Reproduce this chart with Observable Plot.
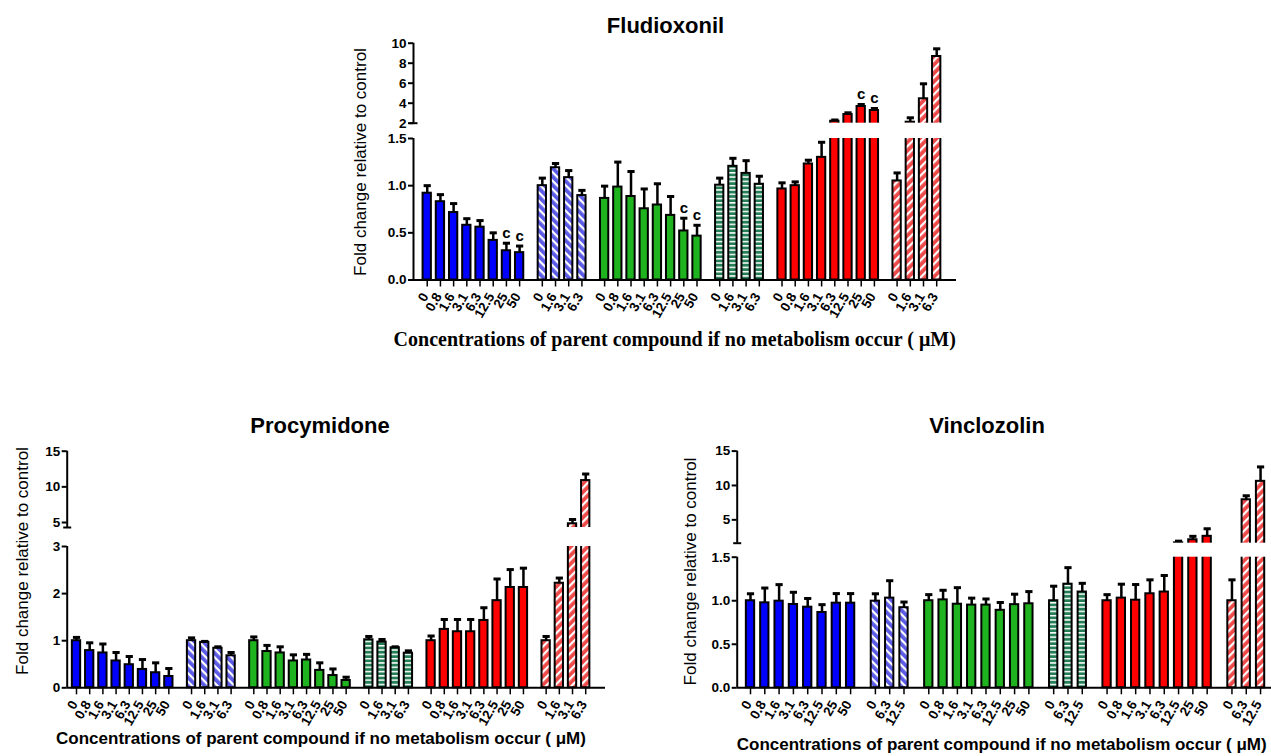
<!DOCTYPE html>
<html><head><meta charset="utf-8">
<script src="https://cdn.jsdelivr.net/npm/d3@7"></script>
<script src="https://cdn.jsdelivr.net/npm/@observablehq/plot@0.6"></script>
<style>
body{margin:0;background:#fff;}
#wrap{position:relative;width:1271px;height:756px;overflow:hidden;background:#fff;}
#wrap svg{position:absolute;left:0;top:0;}
</style></head><body><div id="wrap"></div>
<script>
// ---------- data ----------
const titles = ["Fludioxonil", "Procymidone", "Vinclozolin"];
const yLabel = "Fold change relative to control";
const xLabel = "Concentrations of parent compound if no metabolism occur ( \u03bcM)";

const concFull = ["0", "0.8", "1.6", "3.1", "6.3", "12.5", "25", "50"];
const concShort = ["0", "1.6", "3.1", "6.3"];
const concVinc = ["0", "6.3", "12.5"];

const fludConc = [concFull, concShort, concFull, concShort, concFull, concShort];
const fludMean = [
  [0.92, 0.83, 0.715, 0.58, 0.56, 0.42, 0.31, 0.29],
  [1.0, 1.19, 1.085, 0.895],
  [0.865, 0.985, 0.885, 0.755, 0.795, 0.685, 0.52, 0.465],
  [1.005, 1.205, 1.13, 1.015],
  [0.965, 1.0, 1.23, 1.30, 2.2, 2.87, 3.67, 3.27],
  [1.05, 2.1, 4.44, 8.67]
];
const fludSem = [
  [0.08, 0.075, 0.095, 0.07, 0.07, 0.08, 0.08, 0.07],
  [0.08, 0.045, 0.075, 0.055],
  [0.13, 0.265, 0.265, 0.21, 0.225, 0.2, 0.135, 0.115],
  [0.075, 0.085, 0.135, 0.085],
  [0.065, 0.04, 0.04, 0.16, 0.12, 0.17, 0.2, 0.2],
  [0.085, 0.44, 1.5, 0.77]
];
const fludSig = [
  ["", "", "", "", "", "", "c", "c"],
  ["", "", "", ""],
  ["", "", "", "", "", "", "c", "c"],
  ["", "", "", ""],
  ["", "", "", "", "", "", "c", "c"],
  ["", "", "", ""]
];

const procConc = [concFull, concShort, concFull, concShort, concFull, concShort];
const procMean = [
  [1.0, 0.79, 0.74, 0.57, 0.49, 0.39, 0.32, 0.24],
  [1.0, 0.965, 0.84, 0.68],
  [1.0, 0.77, 0.74, 0.57, 0.59, 0.37, 0.26, 0.155],
  [1.02, 0.97, 0.85, 0.735],
  [1.0, 1.24, 1.19, 1.19, 1.43, 1.85, 2.13, 2.13],
  [1.0, 2.22, 4.82, 10.88]
];
const procSem = [
  [0.07, 0.165, 0.19, 0.18, 0.175, 0.21, 0.21, 0.17],
  [0.06, 0.02, 0.03, 0.07],
  [0.08, 0.13, 0.13, 0.13, 0.12, 0.16, 0.14, 0.07],
  [0.07, 0.055, 0.02, 0.05],
  [0.1, 0.21, 0.26, 0.26, 0.27, 0.46, 0.38, 0.41],
  [0.09, 0.11, 0.6, 0.92]
];

const vincConc = [concFull, concVinc, concFull, concVinc, concFull, concVinc];
const vincMean = [
  [1.0, 0.976, 0.995, 0.957, 0.926, 0.865, 0.972, 0.972],
  [0.995, 1.03, 0.92],
  [1.0, 1.01, 0.96, 0.95, 0.95, 0.89, 0.955, 0.965],
  [1.0, 1.19, 1.10],
  [1.0, 1.03, 1.006, 1.08, 1.10, 1.65, 2.1, 2.6],
  [1.0, 7.92, 10.6]
];
const vincSem = [
  [0.08, 0.17, 0.19, 0.14, 0.1, 0.09, 0.11, 0.11],
  [0.085, 0.2, 0.065],
  [0.07, 0.11, 0.19, 0.08, 0.07, 0.09, 0.12, 0.14],
  [0.167, 0.19, 0.1],
  [0.07, 0.16, 0.18, 0.16, 0.19, 0.25, 0.5, 1.1],
  [0.24, 0.58, 2.1]
];

// ---------- styles ----------
const STYLES = ["blue", "blueHatch", "green", "greenStripe", "red", "redHatch"];
const FILLS = {
  blue: "#0000ff", blueHatch: "url(#pBlue)", green: "#1fb41f",
  greenStripe: "url(#pGreen)", red: "#ff0000", redHatch: "url(#pRed)"
};

const wrap = document.getElementById("wrap");
const W = 1271, H = 756;

// pattern defs
const defs = d3.select(wrap).append("svg").attr("width", 0).attr("height", 0).append("defs");
function hatch(id, base, angle, period, thick) {
  const p = defs.append("pattern").attr("id", id).attr("patternUnits", "userSpaceOnUse")
    .attr("width", period).attr("height", period).attr("patternTransform", `rotate(${angle})`);
  p.append("rect").attr("width", period).attr("height", period).attr("fill", base);
  p.append("rect").attr("y", 0).attr("width", period).attr("height", thick).attr("fill", "white");
}
hatch("pBlue", "#5b5be6", 45, 6, 2.2);
hatch("pRed", "#ef4a4a", -45, 6, 2.2);
hatch("pGreen", "#237d55", 0, 4.3, 1.5);

const panels = [
  {conc: fludConc, mean: fludMean, sem: fludSem, sig: fludSig, gap: 0.72,
   left: 413, right: 956, xDomain: [-1.04, 40.1],
   yDomain: [0, 1.5, 2, 10], yRange: [279.5, 138, 122.7, 42.7],
   yTicks: [0, 0.5, 1, 1.5, 2, 4, 6, 8, 10], lowFixed: true},
  {conc: procConc, mean: procMean, sem: procSem, sig: null, gap: 0.72,
   left: 66.7, right: 605, xDomain: [-0.705, 40.1],
   yDomain: [0, 3, 4.3, 15], yRange: [687.3, 546, 527, 450.7],
   yTicks: [0, 1, 2, 3, 5, 10, 15], lowFixed: false},
  {conc: vincConc, mean: vincMean, sem: vincSem, sig: null, gap: 0.733,
   left: 736.7, right: 1271, xDomain: [-0.93, 36.43],
   yDomain: [0, 1.5, 1.6, 15], yRange: [687.3, 556.7, 542.7, 450.6],
   yTicks: [0, 0.5, 1, 1.5, 5, 10, 15], lowFixed: true}
];

function drawPanel(P) {
  const rows = [];
  let k = 0;
  P.conc.forEach((labels, g) => labels.forEach((lab, j) => {
    rows.push({style: STYLES[g], label: lab, p: k + g * P.gap,
      v: P.mean[g][j], e: P.mean[g][j] + P.sem[g][j], sig: P.sig ? P.sig[g][j] : ""});
    k++;
  }));
  const s = (P.right - P.left) / (P.xDomain[1] - P.xDomain[0]);
  const hw = 4.15 / s, cw = 3.6 / s, bm = 4 / s;
  const [y0, yb0, yb1, yTop] = P.yDomain;
  const x0 = P.xDomain[0], x1 = P.xDomain[1];
  const fmt = d => (d <= yb0 && P.lowFixed) ? d.toFixed(1) : String(d);

  const svg = Plot.plot({
    width: W, height: H,
    marginLeft: P.left, marginRight: W - P.right,
    marginTop: P.yRange[3], marginBottom: H - P.yRange[0],
    style: {background: "none", fontFamily: "'Liberation Sans', Arial, sans-serif",
      fontWeight: "bold", color: "black", overflow: "visible"},
    x: {type: "linear", domain: P.xDomain},
    y: {type: "linear", domain: P.yDomain, range: P.yRange},
    marks: [
      ...STYLES.map(st => Plot.rect(rows.filter(r => r.style === st), {
        x1: r => r.p - hw, x2: r => r.p + hw, y1: 0, y2: "v",
        fill: FILLS[st], stroke: "black", strokeWidth: 2
      })),
      Plot.ruleX(rows, {x: "p", y1: "v", y2: "e", stroke: "black", strokeWidth: 2.5}),
      Plot.link(rows, {x1: r => r.p - cw, x2: r => r.p + cw, y1: "e", y2: "e",
        stroke: "black", strokeWidth: 3}),
      Plot.rect([[yb0, yb1]], {x1: x0, x2: x1, y1: d => d[0], y2: d => d[1], fill: "white"}),
      Plot.text(rows.filter(r => r.sig), {x: "p", y: "e", text: "sig", dy: -10,
        fontSize: 15, fontWeight: "bold", fill: "black"}),
      Plot.ruleY([y0], {stroke: "black", strokeWidth: 2}),
      Plot.ruleX([x0], {y1: y0, y2: yb0, stroke: "black", strokeWidth: 2}),
      Plot.ruleX([x0], {y1: yb1, y2: yTop, stroke: "black", strokeWidth: 2}),
      Plot.link([yb1], {x1: x0 - bm, x2: x0 + bm, y1: d => d, y2: d => d,
        stroke: "black", strokeWidth: 2}),
      Plot.axisY({ticks: P.yTicks, tickFormat: fmt, tickSize: 5, tickPadding: 2,
        fontSize: 13.5, fontWeight: "bold", strokeWidth: 2, label: null}),
      Plot.axisX({ticks: rows.map(r => r.p), tickFormat: () => "",
        tickSize: 7, strokeWidth: 1.5, label: null}),
      Plot.text(rows, {x: "p", y: () => y0, text: "label", rotate: -60,
        textAnchor: "end", lineAnchor: "middle", dx: -2, dy: 14,
        fontSize: 13.5, fontWeight: "bold", fill: "black"})
    ]
  });
  wrap.appendChild(svg);
}
panels.forEach(drawPanel);

// ---------- text overlay ----------
const ov = d3.select(wrap).append("svg").attr("width", W).attr("height", H);
const sans = "'Liberation Sans', Arial, sans-serif";
function txt(x, y, s, size, weight, family, rot) {
  const t = ov.append("text").attr("text-anchor", "middle").attr("font-size", size)
    .attr("font-weight", weight).attr("font-family", family).attr("fill", "black").text(s);
  if (rot) t.attr("transform", `translate(${x},${y}) rotate(${rot})`);
  else t.attr("x", x).attr("y", y);
}
txt(665.5, 33, titles[0], 22, "bold", sans);
txt(320, 433, titles[1], 22, "bold", sans);
txt(987, 433, titles[2], 22, "bold", sans);
txt(366, 162, yLabel, 17, "normal", sans, -90);
txt(27.5, 561, yLabel, 17, "normal", sans, -90);
txt(695.5, 571.5, yLabel, 17, "normal", sans, -90);
txt(674.7, 346, xLabel, 20, "bold", "'Liberation Serif', 'Times New Roman', serif");
txt(321, 744, xLabel, 17, "bold", sans);
txt(1001.7, 750, xLabel, 17, "bold", sans);
</script></body></html>
